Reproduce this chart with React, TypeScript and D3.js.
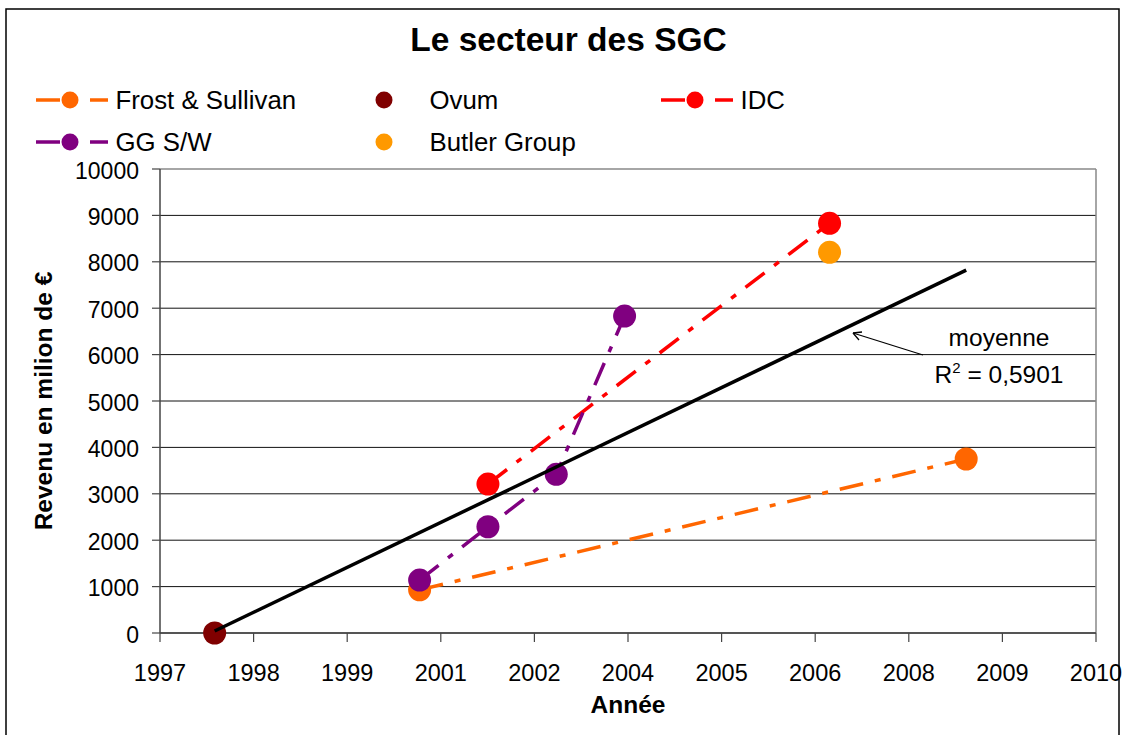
import React from 'react';
import * as d3 from 'd3';

// ---------- data ----------
const chartTitle = 'Le secteur des SGC';
const xAxisTitle = 'Année';
const yAxisTitle = 'Revenu en milion de €';
const xTickLabels = ['1997', '1998', '1999', '2001', '2002', '2004', '2005', '2006', '2008', '2009', '2010'];
const xDomain = [1996.7, 2010.4];
const yTicks = [0, 1000, 2000, 3000, 4000, 5000, 6000, 7000, 8000, 9000, 10000];
const yDomain = [0, 10000];

const frostYears = [2000.5, 2008.5];
const frostValues = [930, 3750];
const ovumYears = [1997.5];
const ovumValues = [0];
const idcYears = [2001.5, 2006.5];
const idcValues = [3210, 8830];
const ggYears = [2000.5, 2001.5, 2002.5, 2003.5];
const ggValues = [1140, 2290, 3420, 6830];
const butlerYears = [2006.5];
const butlerValues = [8205];

const trendLabel = 'moyenne';
const r2Label = ['R', '2', ' = 0,5901'];

// ---------- styles ----------
const FONT = '"Liberation Sans", Arial, Helvetica, sans-serif';
const DASH = '24,12,6,12';

type Series = {
  name: string;
  years: number[];
  values: number[];
  color: string;
  line: boolean;
  col: number;
  row: number;
};

const series: Series[] = [
  { name: 'Frost & Sullivan', years: frostYears, values: frostValues, color: '#FF6600', line: true, col: 0, row: 0 },
  { name: 'Ovum', years: ovumYears, values: ovumValues, color: '#800000', line: false, col: 1, row: 0 },
  { name: 'IDC', years: idcYears, values: idcValues, color: '#FF0000', line: true, col: 2, row: 0 },
  { name: 'GG S/W', years: ggYears, values: ggValues, color: '#800080', line: true, col: 0, row: 1 },
  { name: 'Butler Group', years: butlerYears, values: butlerValues, color: '#FF9900', line: false, col: 1, row: 1 },
];

const W = 1126;
const H = 735;
const plot = { left: 160, right: 1096, top: 169, bottom: 633 };

export default function App() {
  const x = d3.scaleLinear().domain(xDomain).range([plot.left, plot.right]);
  const y = d3.scaleLinear().domain(yDomain).range([plot.bottom, plot.top]);
  const nT = xTickLabels.length;
  const xTicks = d3.range(nT).map((i) => xDomain[0] + (i * (xDomain[1] - xDomain[0])) / (nT - 1));

  // regression over all points
  const allPts: [number, number][] = [];
  series.forEach((s) => s.years.forEach((yr, i) => allPts.push([yr, s.values[i]])));
  const mx = d3.mean(allPts, (p) => p[0]) as number;
  const my = d3.mean(allPts, (p) => p[1]) as number;
  const sxy = d3.sum(allPts, (p) => (p[0] - mx) * (p[1] - my));
  const sxx = d3.sum(allPts, (p) => (p[0] - mx) ** 2);
  const slope = sxy / sxx;
  const icpt = my - slope * mx;
  const [tx0, tx1] = d3.extent(allPts, (p) => p[0]) as [number, number];

  const lineGen = d3
    .line<[number, number]>()
    .x((d) => x(d[0]))
    .y((d) => y(d[1]));

  const legendColX = [36, 350, 661];
  const legendRowY = [100, 142];

  return (
    <svg
      width={W}
      height={H}
      style={{ position: 'fixed', left: 0, top: 0, background: '#fff' }}
      fontFamily={FONT}
    >
      <rect x={6} y={9} width={1113} height={745} fill="#fff" stroke="#000" strokeWidth={1.5} />
      <text x={568.5} y={51} textAnchor="middle" fontSize={33.5} fontWeight="bold">
        {chartTitle}
      </text>

      {/* legend */}
      {series.map((s) => {
        const lx = legendColX[s.col];
        const ly = legendRowY[s.row];
        const mxp = lx + 34;
        return (
          <g key={s.name}>
            {s.line && (
              <line x1={lx} x2={lx + 72} y1={ly} y2={ly} stroke={s.color} strokeWidth={3.5} strokeDasharray={DASH} />
            )}
            <circle cx={mxp} cy={ly} r={8.5} fill={s.color} />
            <text x={mxp + 45.5} y={ly + 9} fontSize={25.8}>
              {s.name}
            </text>
          </g>
        );
      })}

      {/* gridlines */}
      {yTicks.map((t) => (
        <line key={'g' + t} x1={plot.left} x2={plot.right} y1={y(t)} y2={y(t)} stroke={t === yDomain[1] ? '#888' : '#111'} strokeWidth={t === yDomain[1] ? 1.5 : 1} />
      ))}
      <line x1={plot.right} x2={plot.right} y1={plot.top} y2={plot.bottom} stroke="#888" strokeWidth={1.5} />

      {/* axes */}
      <line x1={plot.left} x2={plot.left} y1={plot.top} y2={plot.bottom} stroke="#444" strokeWidth={1.5} />
      <line x1={plot.left} x2={plot.right} y1={plot.bottom} y2={plot.bottom} stroke="#444" strokeWidth={1.5} />
      {yTicks.map((t) => (
        <g key={'yt' + t}>
          <line x1={plot.left - 8} x2={plot.left} y1={y(t)} y2={y(t)} stroke="#444" strokeWidth={1.2} />
          <text x={139} y={y(t) + 9.5} textAnchor="end" fontSize={23}>
            {t}
          </text>
        </g>
      ))}
      {xTicks.map((t, i) => (
        <g key={'xt' + i}>
          <line x1={x(t)} x2={x(t)} y1={plot.bottom} y2={plot.bottom + 9} stroke="#444" strokeWidth={1.2} />
          <text x={x(t)} y={681} textAnchor="middle" fontSize={23.5}>
            {xTickLabels[i]}
          </text>
        </g>
      ))}
      <text x={(plot.left + plot.right) / 2} y={713} textAnchor="middle" fontSize={24.5} fontWeight="bold">
        {xAxisTitle}
      </text>
      <text
        transform={`translate(52, ${(plot.top + plot.bottom) / 2}) rotate(-90)`}
        textAnchor="middle"
        fontSize={24.5}
        fontWeight="bold"
      >
        {yAxisTitle}
      </text>

      {/* series lines */}
      {series
        .filter((s) => s.line)
        .map((s) => (
          <path
            key={'l' + s.name}
            d={lineGen(s.years.map((yr, i) => [yr, s.values[i]]) as [number, number][]) || ''}
            fill="none"
            stroke={s.color}
            strokeWidth={3.5}
            strokeDasharray={DASH}
          />
        ))}
      {/* markers */}
      {series.map((s) =>
        s.years.map((yr, i) => (
          <circle key={'m' + s.name + i} cx={x(yr)} cy={y(s.values[i])} r={11.5} fill={s.color} />
        ))
      )}

      {/* trend line */}
      <line
        x1={x(tx0)}
        y1={y(icpt + slope * tx0)}
        x2={x(tx1)}
        y2={y(icpt + slope * tx1)}
        stroke="#000"
        strokeWidth={3.5}
      />

      {/* annotation */}
      <line x1={923} y1={355} x2={853} y2={333} stroke="#000" strokeWidth={1.3} />
      <path d="M853,333 L862,332 M853,333 L859,340" stroke="#000" strokeWidth={1.3} fill="none" />
      <text x={999} y={346} textAnchor="middle" fontSize={24.5}>
        {trendLabel}
      </text>
      <text x={999} y={383} textAnchor="middle" fontSize={24.5}>
        {r2Label[0]}
        <tspan dy={-10} fontSize={15}>
          {r2Label[1]}
        </tspan>
        <tspan dy={10}>{r2Label[2]}</tspan>
      </text>
    </svg>
  );
}
